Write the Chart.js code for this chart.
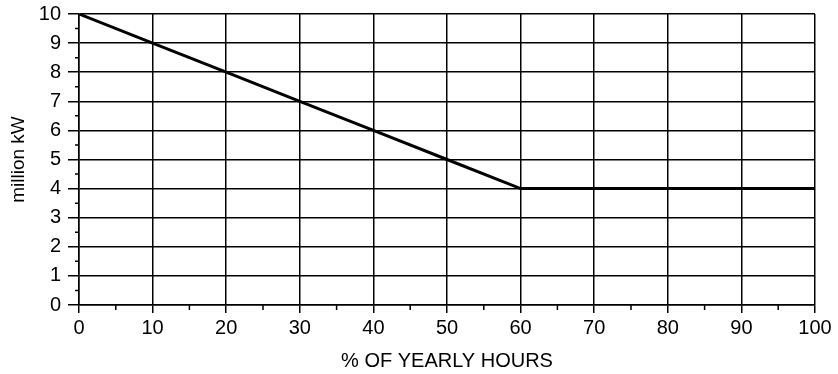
<!DOCTYPE html>
<html>
<head>
<meta charset="utf-8">
<script src="https://cdn.jsdelivr.net/npm/chart.js@4"></script>
<style>
html,body{margin:0;padding:0;background:#fff;}
#wrap{width:838px;height:374px;position:relative;}
</style>
</head>
<body>
<div id="wrap"><canvas id="c" width="838" height="374"></canvas></div>
<script>
const hours = [0, 10, 20, 30, 40, 50, 60, 70, 80, 90, 100];
const loadMillionKW = [10, 9, 8, 7, 6, 5, 4, 4, 4, 4, 4];
const xMinorTicks = [5, 15, 25, 35, 45, 55, 65, 75, 85, 95];
const yMinorTicks = [0.5, 1.5, 2.5, 3.5, 4.5, 5.5, 6.5, 7.5, 8.5, 9.5];
const xTitle = '% OF YEARLY HOURS';
const yTitle = 'million kW';

const FONT = '"Liberation Sans", Arial, Helvetica, sans-serif';

const minorTickPlugin = {
  id: 'minorTicks',
  afterDraw(chart) {
    const ctx = chart.ctx;
    const xs = chart.scales.x, ys = chart.scales.y;
    ctx.save();
    ctx.strokeStyle = '#000';
    ctx.lineWidth = 1.5;
    ctx.beginPath();
    xMinorTicks.forEach(v => {
      const px = xs.getPixelForValue(v);
      ctx.moveTo(px, ys.bottom);
      ctx.lineTo(px, ys.bottom + 5);
    });
    yMinorTicks.forEach(v => {
      const py = ys.getPixelForValue(v);
      ctx.moveTo(xs.left, py);
      ctx.lineTo(xs.left - 4, py);
    });
    ctx.stroke();
    ctx.restore();
  }
};

new Chart(document.getElementById('c'), {
  type: 'line',
  data: {
    datasets: [{
      data: hours.map((h, i) => ({x: h, y: loadMillionKW[i]})),
      borderColor: '#000',
      borderWidth: 3,
      pointRadius: 0,
      fill: false,
      tension: 0
    }]
  },
  options: {
    responsive: false,
    animation: false,
    layout: {padding: {top: 14, right: 23, left: 0, bottom: 0}},
    plugins: {legend: {display: false}, tooltip: {enabled: false}},
    scales: {
      x: {
        type: 'linear',
        min: 0, max: 100,
        ticks: {stepSize: 10, color: '#000', font: {family: FONT, size: 20}, padding: 3, maxRotation: 0},
        grid: {color: '#000', lineWidth: 1.5, tickLength: 8, tickColor: '#000'},
        border: {color: '#000', width: 1.5},
        title: {display: true, text: xTitle, color: '#000', font: {family: FONT, size: 20}, padding: {top: 4, bottom: 1}},
        afterFit(s) { s.height = 69; s.paddingLeft = 0; s.paddingRight = 0; }
      },
      y: {
        min: 0, max: 10,
        ticks: {stepSize: 1, color: '#000', font: {family: FONT, size: 20}, padding: 7},
        grid: {color: '#000', lineWidth: 1.5, tickLength: 11, tickColor: '#000'},
        border: {color: '#000', width: 1.5},
        title: {display: true, text: yTitle, color: '#000', font: {family: FONT, size: 19}, padding: {top: 7, bottom: 4}},
        afterFit(s) { s.width = 79; s.paddingTop = 0; s.paddingBottom = 0; }
      }
    }
  },
  plugins: [minorTickPlugin]
});
</script>
</body>
</html>
